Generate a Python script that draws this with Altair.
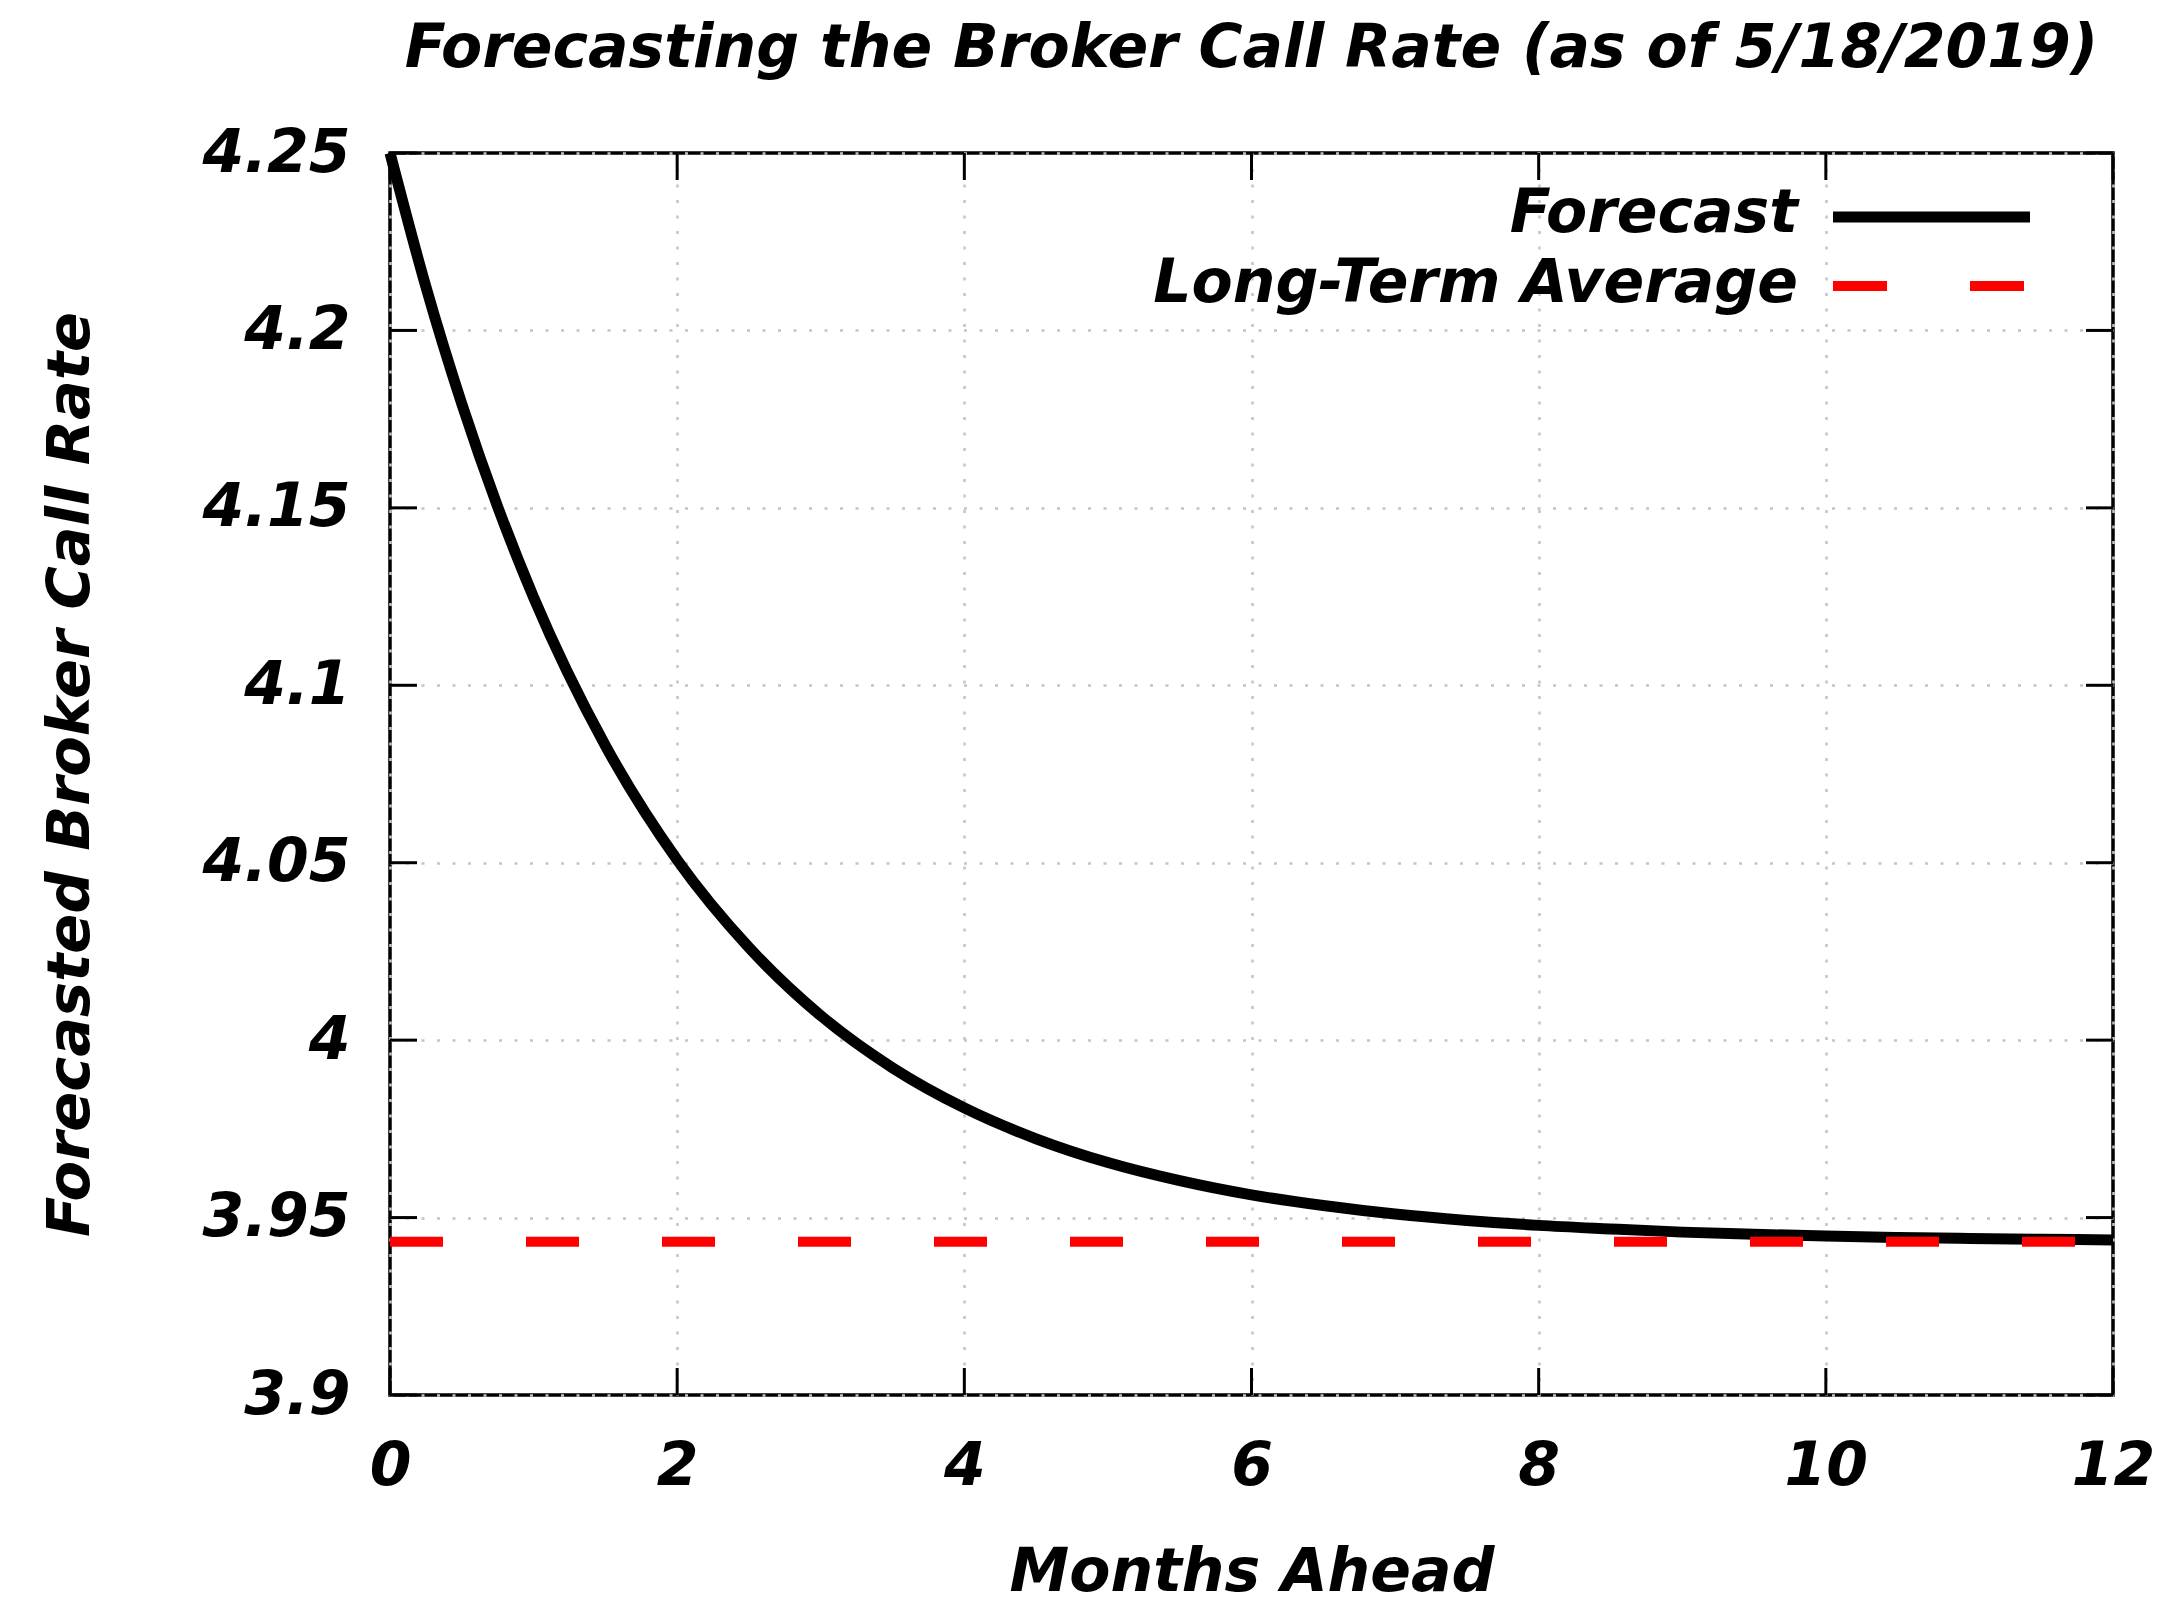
import altair as alt
import pandas as pd

# ---- data ----
months = [0, 0.25, 0.5, 0.75, 1, 1.5, 2, 2.5, 3, 3.5, 4, 4.5, 5, 5.5, 6, 6.5,
          7, 7.5, 8, 8.5, 9, 9.5, 10, 10.5, 11, 11.5, 12]
forecast = [4.2500, 4.2123, 4.1793, 4.1503, 4.1248, 4.0830, 4.0508, 4.0261,
            4.0069, 3.9922, 3.9809, 3.9722, 3.9655, 3.9604, 3.9564, 3.9534,
            3.9510, 3.9492, 3.9478, 3.9468, 3.9459, 3.9453, 3.9448, 3.9444,
            3.9441, 3.9439, 3.9437]
long_term_average = [3.9432]
x_ticks = [0, 2, 4, 6, 8, 10, 12]
y_ticks = [3.9, 3.95, 4.0, 4.05, 4.1, 4.15, 4.2, 4.25]
legend_labels = ["Forecast", "Long-Term Average"]
legend_colors = ["#000000", "#ff0000"]

TITLE = "Forecasting the Broker Call Rate (as of 5/18/2019)"
FONT = "DejaVu Sans"
FS = 60
W, H = 1723, 1242
TICK = 27

df_fc = pd.DataFrame({"month": months, "rate": forecast})
df_avg = pd.DataFrame({"rate": long_term_average})
df_xt = pd.DataFrame({"month": x_ticks})
df_yt = pd.DataFrame({"rate": y_ticks})

xscale = alt.Scale(domain=[0, 12], nice=False, zero=False)
yscale = alt.Scale(domain=[3.9, 4.25], nice=False, zero=False)

xaxis = alt.Axis(values=x_ticks, title="Months Ahead", ticks=False, domain=False,
                 labelFlush=False, labelOverlap=False, labelBaseline="alphabetic",
                 labelPadding=89, titleBaseline="alphabetic", titleY=195,
                 grid=True)
yaxis = alt.Axis(values=y_ticks, title="Forecasted Broker Call Rate", format=".3~g",
                 ticks=False, domain=False, labelFlush=False, labelOverlap=False,
                 labelPadding=40, labelBaseline="middle",
                 titleAngle=-90, titleBaseline="middle", titleAlign="center",
                 titleFontSize=59, titleX=-320, titleY=H / 2, grid=True)

X = alt.X("month:Q", scale=xscale, axis=xaxis)
Y = alt.Y("rate:Q", scale=yscale, axis=yaxis)

line = alt.Chart(df_fc).mark_line(color="black", strokeWidth=11, interpolate="monotone",
                                  strokeCap="butt").encode(x=X, y=Y)

avg = alt.Chart(df_avg).mark_rule(color="#ff0000", strokeWidth=10,
                                  strokeDash=[53, 83], strokeCap="butt").encode(
    y=Y, x=alt.value(0), x2=alt.value(W))

tick_style = dict(color="black", strokeWidth=3)
xt_bottom = alt.Chart(df_xt).mark_rule(**tick_style).encode(
    x=X, y=alt.value(H), y2=alt.value(H - TICK))
xt_top = alt.Chart(df_xt).mark_rule(**tick_style).encode(
    x=X, y=alt.value(0), y2=alt.value(TICK))
yt_left = alt.Chart(df_yt).mark_rule(**tick_style).encode(
    y=Y, x=alt.value(0), x2=alt.value(TICK))
yt_right = alt.Chart(df_yt).mark_rule(**tick_style).encode(
    y=Y, x=alt.value(W - TICK), x2=alt.value(W))

layers = [line, avg, xt_bottom, xt_top, yt_left, yt_right]

# legend (gnuplot style: label on the left, sample on the right)
for i, (lab, col) in enumerate(zip(legend_labels, legend_colors)):
    dfl = pd.DataFrame({"label": [lab]})
    txt = alt.Chart(dfl).mark_text(
        align="right", baseline="alphabetic", font=FONT, fontSize=FS,
        fontWeight="bold", fontStyle="italic", color="black"
    ).encode(text="label:N", x=alt.value(1408), y=alt.value(79 + 70 * i))
    if i == 0:
        sample = alt.Chart(dfl).mark_rule(color=col, strokeWidth=11, strokeCap="butt").encode(
            x=alt.value(1443), x2=alt.value(1640), y=alt.value(64 + 69 * i))
    else:
        sample = alt.Chart(dfl).mark_rule(color=col, strokeWidth=10, strokeCap="butt",
                                          strokeDash=[54, 83]).encode(
            x=alt.value(1443), x2=alt.value(1640), y=alt.value(64 + 69 * i))
    layers += [txt, sample]

chart = alt.layer(*layers).properties(
    width=W, height=H,
    title=alt.TitleParams(TITLE, font=FONT, fontSize=FS, fontWeight="bold",
                          fontStyle="italic", color="black", anchor="middle",
                          frame="group", baseline="alphabetic", offset=0, dy=4),
    autosize=alt.AutoSizeParams(type="none"),
    padding={"left": 382, "top": 145, "right": 60, "bottom": 220},
    background="white",
).configure_view(
    stroke="black", strokeWidth=3.5
).configure_axis(
    labelFont=FONT, labelFontSize=FS, labelFontWeight="bold", labelFontStyle="italic",
    labelColor="black",
    titleFont=FONT, titleFontSize=FS, titleFontWeight="bold", titleFontStyle="italic",
    titleColor="black",
    gridColor="#c4c4c4", gridWidth=2.5, gridDash=[3, 12.5], gridOpacity=1,
)

chart.save("out.html", embed_options={"renderer": "svg", "actions": False})
